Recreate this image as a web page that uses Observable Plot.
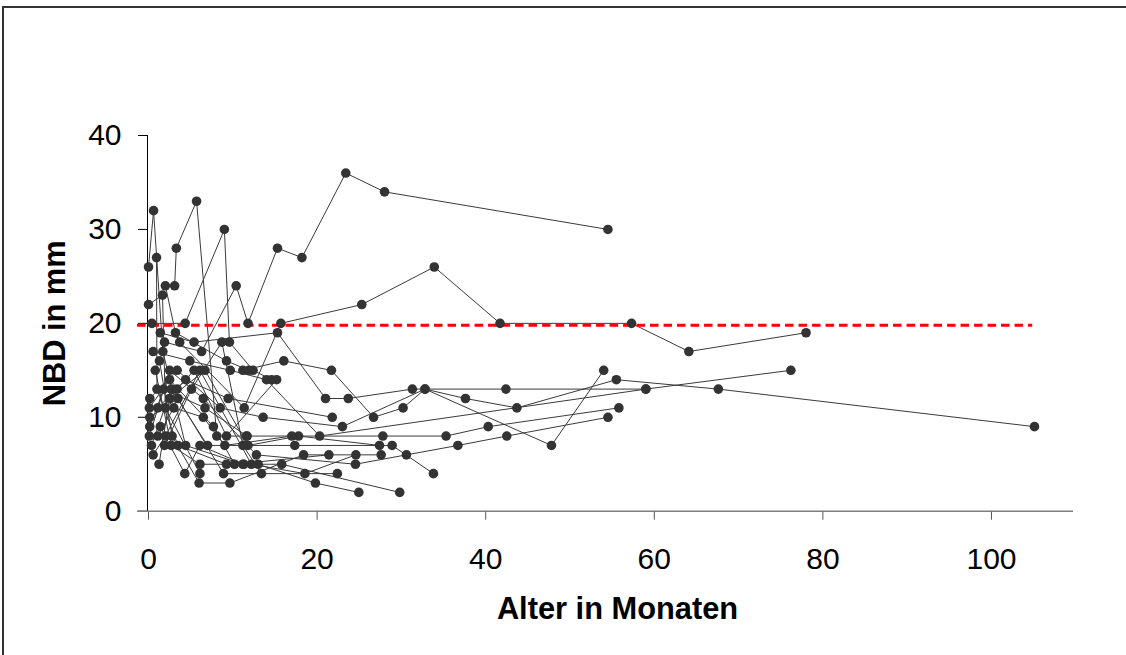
<!DOCTYPE html>
<html>
<head>
<meta charset="utf-8">
<script src="https://cdn.jsdelivr.net/npm/d3@7"></script>
<script src="https://cdn.jsdelivr.net/npm/@observablehq/plot@0.6"></script>
<style>
  html, body { margin: 0; padding: 0; background: #fff; overflow: hidden; }
  #frame { position: absolute; left: 2px; top: 6px; width: 1200px; height: 700px; border: 2px solid #333; box-sizing: border-box; }
  #chart { position: absolute; left: 0; top: 0; }
</style>
</head>
<body>
<div id="frame"></div>
<div id="chart"></div>
<script>
// Follow-up measurements per patient: [age in months, NBD in mm]
const p01 = [[0,26],[0.6,32],[1.7,17],[4.4,7],[11.2,5]];
const p02 = [[0.95,27],[1.0,13],[3.5,7],[9.25,5],[15.8,5],[29.8,2]];
const p03 = [[0,22],[1.66,23],[2.0,11],[6.1,4]];
const p04 = [[3.1,24],[3.3,28],[5.7,33],[8.1,8],[11.6,8]];
const p05 = [[0.4,20],[4.35,20],[9.0,30],[9.6,18],[12.4,15],[14.6,14]];
const p06 = [[1.9,18],[6.3,17],[10.4,24],[11.8,20],[15.3,28],[18.2,27],[23.4,36],[28.0,34],[54.5,30]];
const p07 = [[2.0,24],[3.2,19],[9.25,16],[11.9,15]];
const p08 = [[11.2,15],[16.05,16],[21.7,15],[26.7,10],[30.2,11],[32.8,13],[37.6,12],[43.7,11],[55.5,14],[67.6,13],[105.1,9]];
const p09 = [[3.7,18],[11.35,11],[15.7,20],[25.3,22],[33.9,26],[41.7,20],[57.3,20],[64.1,17],[78.0,19]];
const p10 = [[1.4,19],[5.4,18],[15.3,19],[21.0,12],[23.7,12],[31.3,13],[42.4,13],[59.0,13]];
const p11 = [[0.55,17],[4.9,16],[9.7,15],[14.0,14],[20.3,8],[59.0,13],[76.2,15]];
const p12 = [[0.15,12],[3.4,15],[8.5,11],[13.6,10],[23.0,9],[32.8,13],[47.8,7],[54.0,15]];
const p13 = [[0.1,8],[2.5,15],[6.5,12],[12.8,6],[24.55,5],[30.6,6],[36.7,7],[42.5,8],[54.5,10]];
const p14 = [[0.15,9],[1.8,13],[6.7,11],[11.7,8],[27.8,8],[35.3,8],[40.3,9],[55.8,11]];
const p15 = [[0.35,7],[2.7,13],[7.0,7],[17.35,7],[28.9,7],[33.8,4]];
const p16 = [[0.55,6],[2.0,8],[6.1,15],[12.2,5],[18.55,4],[24.6,6]];
const p17 = [[1.25,5],[2.5,12],[6.7,15],[11.8,7],[17.8,8],[27.4,7]];
const p18 = [[0.8,15],[2.7,7],[6.1,5],[13.0,5],[19.8,3],[24.95,2]];
const p19 = [[1.3,16],[2.8,8],[6.0,3],[9.65,3],[18.4,6],[27.6,6]];
const p20 = [[0.1,11],[2.5,14],[7.7,9],[10.2,5],[21.4,6]];
const p21 = [[1.1,11],[4.4,14],[9.45,12],[21.8,10]];
const p22 = [[0.15,10],[3.5,12],[8.9,4],[22.4,4]];
const p23 = [[1.1,8],[3.0,11],[6.5,10],[9.05,7],[17.0,8]];
const p24 = [[1.9,7],[5.1,13],[8.7,18],[11.2,7],[13.4,4]];
const p25 = [[3.4,13],[5.4,15],[9.25,8],[15.2,14]];
const p26 = [[1.4,9],[4.3,4],[6.1,7],[11.3,5]];

const patients = [p01,p02,p03,p04,p05,p06,p07,p08,p09,p10,p11,p12,p13,p14,p15,p16,p17,p18,p19,p20,p21,p22,p23,p24,p25,p26];

// Axis ticks and reference line
const xTicks = [0, 20, 40, 60, 80, 100];
const yTicks = [0, 10, 20, 30, 40];
const cutoff = 19.8;              // NBD threshold in mm
const cutoffSpan = [-1.3, 104.9]; // months covered by the threshold line
const xDomain = [-0.12, 109.73];
const yDomain = [0, 40];
const xTitle = "Alter in Monaten";
const yTitle = "NBD in mm";

const rows = patients.flatMap((pts, i) => pts.map(([age, nbd]) => ({id: i, age, nbd})));

const chart = Plot.plot({
  width: 1126,
  height: 655,
  marginLeft: 147,
  marginRight: 53,
  marginTop: 135,
  marginBottom: 144.3,
  style: {fontFamily: "'Liberation Sans', Arial, sans-serif", background: "transparent", overflow: "visible"},
  x: {domain: xDomain},
  y: {domain: yDomain},
  marks: [
    Plot.axisY({ticks: yTicks, tickSize: 9, tickPadding: 17, fontSize: 30, label: null, stroke: "#000", fill: "#000"}),
    Plot.axisX({ticks: xTicks, tickSize: 9, tickPadding: 27, fontSize: 30, label: null, stroke: "#555", fill: "#000"}),
    Plot.ruleY([0], {x1: cutoffSpan[0], x2: xDomain[1], stroke: "#808080", strokeWidth: 1.5}),
    Plot.ruleX([xDomain[0]], {y1: yDomain[0], y2: yDomain[1], stroke: "#000", strokeWidth: 1}),
    Plot.line(rows, {x: "age", y: "nbd", z: "id", stroke: "#3a3a3a", strokeWidth: 1}),
    Plot.ruleY([cutoff], {x1: cutoffSpan[0], x2: cutoffSpan[1], stroke: "#ff0000", strokeWidth: 3, strokeDasharray: "8.5,5"}),
    Plot.dot(rows, {x: "age", y: "nbd", r: 4.8, fill: "#333", stroke: "none"}),
    Plot.text([xTitle], {frameAnchor: "bottom", dx: 7, dy: 86.3, lineAnchor: "top", textAnchor: "middle", fontSize: 30.8, fontWeight: "bold", fill: "#000"}),
    Plot.text([yTitle], {frameAnchor: "left", dx: -92, rotate: -90, textAnchor: "middle", lineAnchor: "middle", fontSize: 30.8, fontWeight: "bold", fill: "#000"})
  ]
});
document.getElementById("chart").appendChild(chart);
</script>
</body>
</html>
